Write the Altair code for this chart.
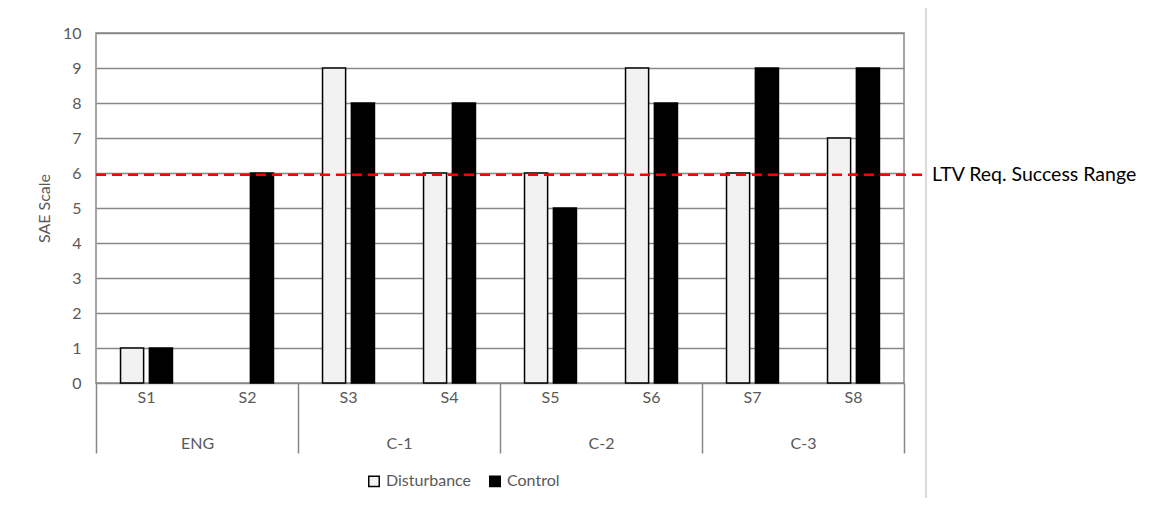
import altair as alt
import pandas as pd

samples = ["S1", "S2", "S3", "S4", "S5", "S6", "S7", "S8"]
sample_groups = ["ENG", "ENG", "C-1", "C-1", "C-2", "C-2", "C-3", "C-3"]
group_names = ["ENG", "C-1", "C-2", "C-3"]
disturbance = [1, 0, 9, 6, 6, 9, 6, 7]
control = [1, 6, 8, 8, 5, 8, 9, 9]
series_names = ["Disturbance", "Control"]
series_colors = ["#f2f2f2", "#000000"]
threshold = [5.95]
threshold_label = ["LTV Req. Success Range"]
y_ticks = list(range(0, 11))

rows = []
for s, g, d, c in zip(samples, sample_groups, disturbance, control):
    rows.append({"sample": s, "group": g, "series": "Disturbance", "value": d})
    rows.append({"sample": s, "group": g, "series": "Control", "value": c})
df = pd.DataFrame(rows)
gdf = pd.DataFrame({"group": group_names})
tdf = pd.DataFrame({"value": threshold, "label": threshold_label})

FONT = "Lato"
GRAY = "#595959"
GRID = "#878787"
FS = 16

y_scale = alt.Scale(domain=[0, 10], nice=False)
y_axis = alt.Axis(values=y_ticks, tickCount=11, ticks=False, domain=False, grid=True,
                  gridColor=GRID, gridWidth=1.5, labelPadding=15,
                  labelOverlap=False, labelFlush=False,
                  labelFont=FONT, labelFontSize=FS, labelColor=GRAY,
                  title="SAE Scale", titleFont=FONT, titleFontSize=FS,
                  titleFontWeight="normal", titleColor=GRAY,
                  titleX=-52, titleY=175, titleAngle=270,
                  titleAlign="center", titleBaseline="middle")

bars = alt.Chart(df).mark_bar(stroke="black", strokeWidth=1.5).encode(
    x=alt.X("sample:N", sort=samples,
            scale=alt.Scale(paddingInner=0, paddingOuter=0),
            axis=alt.Axis(orient="bottom", ticks=False, domain=False, grid=False,
                          labelAngle=0, labelPadding=6, title=None,
                          labelFont=FONT, labelFontSize=FS, labelColor=GRAY)),
    xOffset=alt.XOffset("series:N", sort=series_names,
                        scale=alt.Scale(domain=series_names, paddingInner=0.2, paddingOuter=0.85)),
    y=alt.Y("value:Q", scale=y_scale, axis=y_axis, title="SAE Scale"),
    color=alt.Color("series:N", sort=series_names,
                    scale=alt.Scale(domain=series_names, range=series_colors),
                    legend=alt.Legend(orient="none", legendX=270, legendY=440,
                                      direction="horizontal", title=None,
                                      symbolType="square", symbolSize=110,
                                      symbolStrokeColor="black", symbolStrokeWidth=1.5,
                                      symbolOpacity=1,
                                      labelFont=FONT, labelFontSize=FS, labelColor=GRAY,
                                      columnPadding=14, labelOffset=4)),
    strokeOpacity=alt.condition("datum.value > 0", alt.value(1), alt.value(0)),
)

group_layer = alt.Chart(gdf).mark_point(opacity=0).encode(
    x=alt.X("group:N", sort=group_names,
            scale=alt.Scale(domain=group_names, paddingInner=0, paddingOuter=0),
            axis=alt.Axis(orient="bottom", tickBand="extent", tickSize=70,
                          tickColor=GRID, tickWidth=1.5, domain=False, grid=False,
                          labelAngle=0, labelPadding=-18, title=None,
                          labelFont=FONT, labelFontSize=FS, labelColor=GRAY)),
    y=alt.value(0),
)

rule = alt.Chart(tdf).mark_rule(color="#ff0000", strokeDash=[10, 6], strokeWidth=2.5).encode(
    y=alt.Y("value:Q", scale=y_scale, axis=y_axis, title="SAE Scale"),
    x=alt.value(0),
    x2=alt.value(832),
)

label = alt.Chart(tdf).mark_text(align="left", baseline="middle", fontSize=19.5,
                                 font=FONT, color="black").encode(
    y=alt.Y("value:Q", scale=y_scale, axis=y_axis, title="SAE Scale"),
    x=alt.value(836),
    text="label:N",
)

border = alt.Chart(tdf).mark_rule(color="#d9d9d9", strokeWidth=2).encode(
    x=alt.value(830),
    y=alt.value(-26),
    y2=alt.value(480),
)

chart = alt.layer(bars, group_layer, rule, label, border).resolve_scale(
    x="independent"
).resolve_axis(
    x="independent"
).properties(
    width=808,
    height=350,
    autosize=alt.AutoSizeParams(type="none"),
    padding={"left": 88, "top": 25, "right": 239, "bottom": 115},
    background="white",
).configure_view(
    stroke=GRID, strokeWidth=1.5
)

chart.save("out.html", embed_options={"renderer": "svg", "actions": False})
